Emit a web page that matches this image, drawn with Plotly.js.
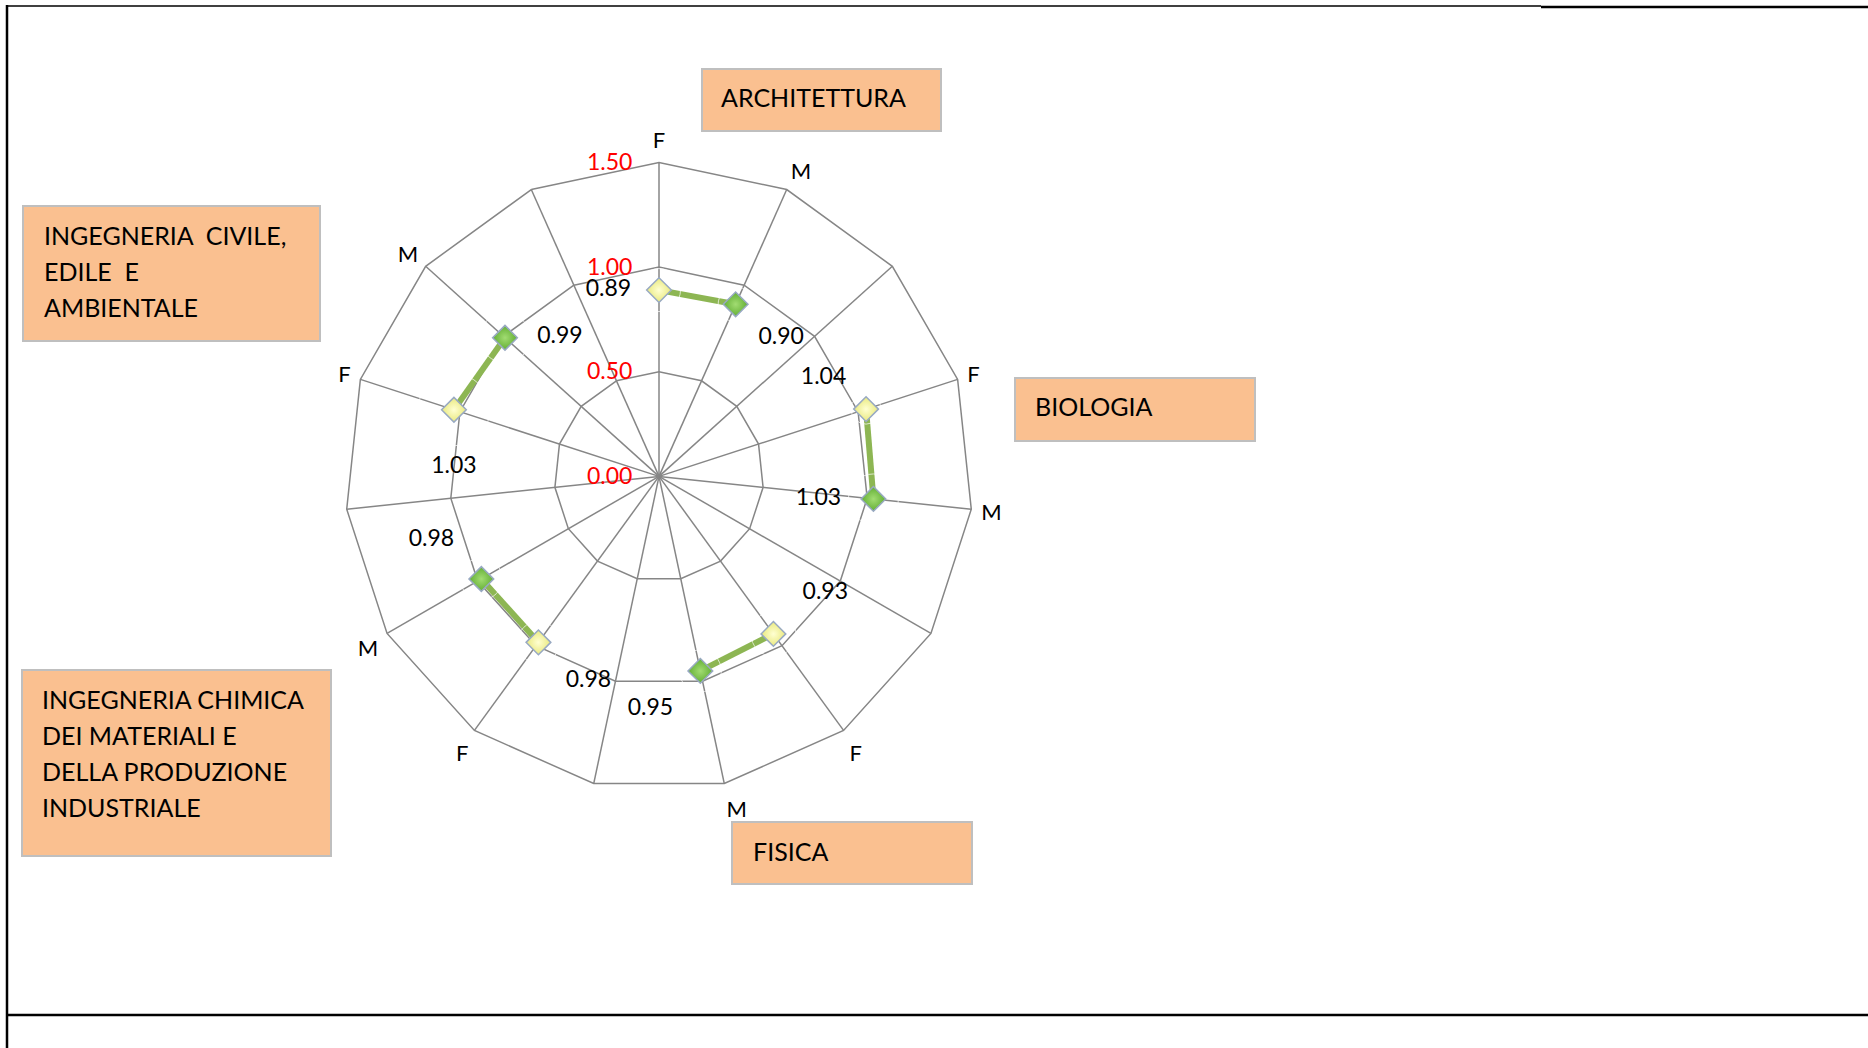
<!DOCTYPE html>
<html>
<head>
<meta charset="utf-8">
<script src="https://cdn.plot.ly/plotly-3.0.1.min.js"></script>
<style>
html,body{margin:0;padding:0;background:#fff;}
#chart{width:1868px;height:1048px;}
</style>
</head>
<body>
<div id="chart"></div>
<script>
// ---- data (clockwise from top) ----
const groups = ['ARCHITETTURA', 'BIOLOGIA', 'FISICA', 'INGEGNERIA CHIMICA DEI MATERIALI E DELLA PRODUZIONE INDUSTRIALE', 'INGEGNERIA CIVILE, EDILE E AMBIENTALE'];
const valuesF = [0.89, 1.04, 0.93, 0.98, 1.03];
const valuesM = [0.90, 1.03, 0.95, 0.98, 0.99];
const spokeLabels = ['F', 'M', ''];
const radialTicks = [0, 0.5, 1.0, 1.5];
const groupLabelLines = [
  ['ARCHITETTURA'],
  ['BIOLOGIA'],
  ['FISICA'],
  ['INGEGNERIA CHIMICA', 'DEI MATERIALI E', 'DELLA PRODUZIONE', 'INDUSTRIALE'],
  ['INGEGNERIA\u00a0\u00a0CIVILE,', 'EDILE\u00a0\u00a0E', 'AMBIENTALE']
];

// ---- build series ----
const theta = [], r = [], mColors = [], mGrad = [], tickvals = [], ticktext = [];
const labTheta = [], labR = [], labText = [];
groups.forEach((g, i) => {
  const vals = [valuesF[i], valuesM[i], null];
  spokeLabels.forEach((lab, j) => {
    const cat = g + ' | ' + (lab || '-');
    tickvals.push(cat); ticktext.push(lab);
    theta.push(cat); r.push(vals[j]);
    mColors.push(j === 0 ? '#E9E97E' : '#62AE34');
    mGrad.push(j === 0 ? '#FFFFD2' : '#A2DC72');
    if (vals[j] !== null) { labTheta.push(cat); labR.push(vals[j]); labText.push(vals[j].toFixed(2)); }
  });
});
// label placement (style only): text position and offset spacer size for each data label
const labPos = ['middle left', 'bottom right', 'top left', 'middle left', 'top right',
                'bottom left', 'bottom right', 'top left', 'bottom center', 'middle right'];
const labGap = [43, 35, 30, 50, 45, 42, 42, 42, 72, 50];

const traces = [
  {
    type: 'scatterpolar', mode: 'lines+markers',
    r: r, theta: theta, connectgaps: false,
    line: {color: '#8DB653', width: 6},
    marker: {symbol: 'diamond', size: 19, color: mColors,
             gradient: {type: 'radial', color: mGrad},
             line: {color: '#98A9C2', width: 1.5}},
    hoverinfo: 'skip', showlegend: false
  },
  {
    type: 'scatterpolar', mode: 'markers+text',
    r: labR, theta: labTheta,
    text: labText, textposition: labPos,
    textfont: {family: 'Lato, sans-serif', size: 23, color: '#000'},
    marker: {size: labGap, color: 'rgba(0,0,0,0)'},
    cliponaxis: false, hoverinfo: 'skip', showlegend: false
  }
];

// ---- layout helpers ----
const W = 1868, H = 1048;
const px = x => x / W, py = y => 1 - y / H;
const cx = 659, cy = 476.4, R = 314;

const boxes = [
  {x0: 702, y0: 69, x1: 941, y1: 131, tx: 718.5, ty: [97]},
  {x0: 1015, y0: 378, x1: 1255, y1: 441, tx: 1032.5, ty: [406]},
  {x0: 732, y0: 822, x1: 972, y1: 884, tx: 750.5, ty: [851]},
  {x0: 22, y0: 670, x1: 331, y1: 856, tx: 39.5, ty: [699, 735, 771, 807]},
  {x0: 23, y0: 206, x1: 320, y1: 341, tx: 41.5, ty: [235, 271, 307]}
];

const shapes = [];
const annotations = [];
boxes.forEach((b, i) => {
  shapes.push({type: 'rect', xref: 'paper', yref: 'paper', x0: px(b.x0), x1: px(b.x1), y0: py(b.y1), y1: py(b.y0),
    fillcolor: '#FAC090', line: {color: '#BFBFBF', width: 2}, layer: 'below'});
  groupLabelLines[i].forEach((t, k) => {
    annotations.push({xref: 'paper', yref: 'paper', x: px(b.tx), y: py(b.ty[k]), xanchor: 'left', yanchor: 'middle',
      text: t, showarrow: false, font: {family: 'Lato, sans-serif', size: 25, color: '#000'}});
  });
});
// page frame lines
shapes.push({type: 'line', xref: 'paper', yref: 'paper', x0: px(7), x1: px(7), y0: 0, y1: py(5), line: {color: '#000', width: 2.5}});
shapes.push({type: 'line', xref: 'paper', yref: 'paper', x0: px(7), x1: px(1541), y0: py(6), y1: py(6), line: {color: '#000', width: 1.5}});
shapes.push({type: 'line', xref: 'paper', yref: 'paper', x0: px(1541), x1: 1, y0: py(7), y1: py(7), line: {color: '#000', width: 2.5}});
shapes.push({type: 'line', xref: 'paper', yref: 'paper', x0: px(7), x1: 1, y0: py(1015), y1: py(1015), line: {color: '#000', width: 2.5}});

const layout = {
  width: W, height: H,
  margin: {l: 0, r: 0, t: 0, b: 0},
  paper_bgcolor: '#fff',
  font: {family: 'Lato, sans-serif', size: 22, color: '#000'},
  showlegend: false,
  polar: {
    domain: {x: [px(cx - R), px(cx + R)], y: [py(cy + R), py(cy - R)]},
    bgcolor: 'rgba(0,0,0,0)',
    gridshape: 'linear',
    angularaxis: {
      type: 'category', rotation: 90, direction: 'clockwise',
      categoryorder: 'array', categoryarray: tickvals,
      tickmode: 'array', tickvals: tickvals, ticktext: ticktext,
      showline: true, linecolor: '#868686', linewidth: 1.5,
      showgrid: true, gridcolor: '#868686', gridwidth: 1.5,
      ticks: 'outside', ticklen: 5, tickcolor: 'rgba(0,0,0,0)',
      tickfont: {family: 'Lato, sans-serif', size: 22, color: '#000'}
    },
    radialaxis: {
      range: [0, 1.5], angle: 90, side: 'counterclockwise', tickangle: 90,
      tickmode: 'array', tickvals: radialTicks, ticktext: radialTicks.map(v => v.toFixed(2)),
      showline: false, showgrid: true, gridcolor: '#868686', gridwidth: 1.5,
      ticks: 'outside', ticklen: 18, tickcolor: 'rgba(0,0,0,0)',
      tickfont: {family: 'Lato, sans-serif', size: 23, color: '#FF0000'}
    }
  },
  shapes: shapes,
  annotations: annotations
};

Plotly.newPlot('chart', traces, layout, {staticPlot: true});
</script>
</body>
</html>
